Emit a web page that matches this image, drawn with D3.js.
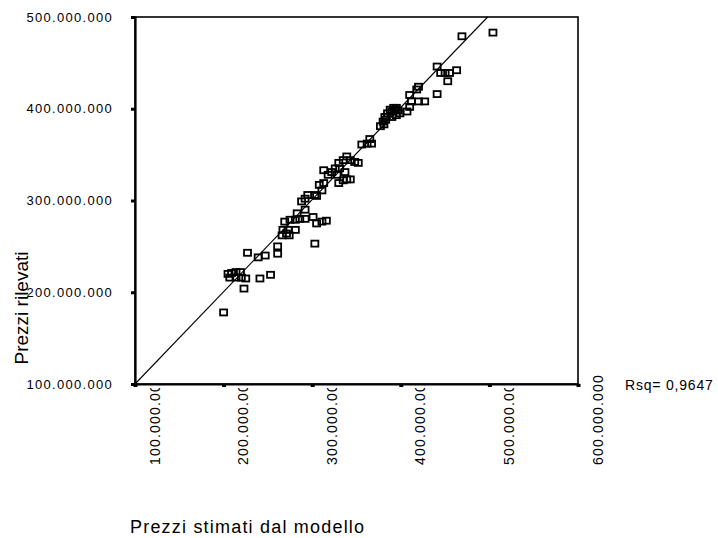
<!DOCTYPE html>
<html>
<head>
<meta charset="utf-8">
<script src="https://cdn.jsdelivr.net/npm/d3@7"></script>
<style>
  body { margin: 0; background: #fff; }
  text { font-family: "Liberation Sans", Arial, sans-serif; fill: #000; }
</style>
</head>
<body>
<div class="chart"></div>
<script>
// scatter of observed vs estimated prices (values in millions)

const estimated = [
  200, 223, 205, 209, 214, 219, 207, 214, 220, 225, 241, 253, 227, 239, 247, 261, 261, 303,
  266, 271, 274, 267, 273, 281, 269, 275, 281, 286, 283, 292, 292, 301, 305, 311, 316,
  288, 292, 295, 303, 305, 308, 311, 313, 313, 318, 322, 326, 328, 330, 335, 339, 343,
  330, 335, 339, 343, 348, 352, 331, 337, 356, 362, 365, 367,
  377, 380, 382, 385, 388, 392, 395, 399, 383, 390, 395, 381, 390, 393, 397,
  407, 410, 410, 412, 420, 427, 420, 418, 441, 441, 445, 450, 455, 463, 453, 469, 504
]
const observed = [
  178, 204, 220, 221, 222, 222, 216, 216, 216, 215, 215, 219, 243, 238, 240, 250, 242, 253,
  262, 264, 262, 268, 268, 268, 277, 279, 279, 280, 286, 290, 280, 282, 275, 277, 278,
  299, 302, 306, 306, 305, 317, 311, 319, 333, 328, 331, 335, 328, 319, 322, 323, 323,
  341, 344, 348, 344, 342, 341, 335, 331, 361, 362, 367, 362,
  381, 386, 391, 395, 399, 401, 401, 395, 388, 391, 393, 383, 397, 399, 398,
  397, 402, 415, 408, 408, 408, 424, 421, 416, 446, 439, 439, 439, 442, 430, 479, 483
]

const xTicks = [100, 200, 300, 400, 500, 600]
const yTicks = [100, 200, 300, 400, 500]
const fitLine = [[100, 100], [498, 500]]
const rsq = 'Rsq= 0,9647'

const width = 718
const height = 538
const plot = { left: 135, right: 578, top: 17, bottom: 384 }

const it = d3.formatLocale({ decimal: ',', thousands: '.', grouping: [3], currency: ['', ''] })
const fmt = d => it.format(',')(d * 1e6)

const svg = d3.select('.chart')
  .append('svg')
    .attr('width', width)
    .attr('height', height)

const x = d3.scaleLinear().domain([100, 600]).range([plot.left, plot.right])
const y = d3.scaleLinear().domain([100, 500]).range([plot.bottom, plot.top])

// x labels - rotated, running up into the plot (the plot hides their ends)
const xLabels = svg.append('g')
  .attr('transform', `translate(0, ${plot.bottom})`)
  .call(d3.axisBottom(x).tickValues(xTicks).tickFormat(fmt).tickSize(0).tickPadding(0))
xLabels.select('.domain').remove()
xLabels.selectAll('.tick line').remove()
xLabels.selectAll('.tick text')
  .attr('transform', 'rotate(-90)')
  .attr('text-anchor', 'start')
  .attr('x', -81)
  .attr('y', 24)
  .attr('dy', 0)
  .style('font-size', '14px')
  .style('letter-spacing', '1.2px')

// white plot area, a little past the bottom axis, over the label ends
svg.append('rect')
  .attr('x', plot.left)
  .attr('y', plot.top)
  .attr('width', plot.right - plot.left)
  .attr('height', plot.bottom - plot.top + 4)
  .attr('fill', '#fff')

svg.append('rect')
  .attr('x', plot.left)
  .attr('y', plot.top)
  .attr('width', plot.right - plot.left)
  .attr('height', plot.bottom - plot.top)
  .attr('fill', 'none')
  .attr('stroke', '#000')
  .attr('stroke-width', 1.6)

// x tick marks
const xAxis = svg.append('g')
  .attr('transform', `translate(0, ${plot.bottom})`)
  .call(d3.axisBottom(x).tickValues(xTicks).tickFormat('').tickSize(3))
xAxis.select('.domain').attr('stroke', '#000').attr('stroke-width', 2)
xAxis.selectAll('.tick line').attr('stroke-width', 4).attr('stroke', '#000')

// y axis
const yAxis = svg.append('g')
  .attr('transform', `translate(${plot.left}, 0)`)
  .call(d3.axisLeft(y).tickValues(yTicks).tickFormat(fmt).tickSize(4).tickPadding(18))
yAxis.select('.domain').attr('stroke', '#000').attr('stroke-width', 2.2)
yAxis.selectAll('.tick line').attr('stroke-width', 3).attr('stroke', '#000')
yAxis.selectAll('.tick text')
  .style('font-size', '13px')
  .style('letter-spacing', '1.3px')

// fit line
svg.append('line')
  .attr('x1', x(fitLine[0][0])).attr('y1', y(fitLine[0][1]))
  .attr('x2', x(fitLine[1][0])).attr('y2', y(fitLine[1][1]))
  .attr('stroke', '#000')
  .attr('stroke-width', 1.1)

// points
const pts = estimated.map((d, i) => ({ e: d, o: observed[i] }))
svg.append('g')
  .selectAll('rect')
  .data(pts)
  .enter()
  .append('rect')
    .attr('x', d => x(d.e) - 3.5)
    .attr('y', d => y(d.o) - 3)
    .attr('width', 7)
    .attr('height', 6)
    .attr('fill', 'none')
    .attr('stroke', '#000')
    .attr('stroke-width', 1.8)

// titles
svg.append('text')
  .attr('transform', 'translate(28, 308) rotate(-90)')
  .attr('text-anchor', 'middle')
  .style('font-size', '19px')
  .text('Prezzi rilevati')

svg.append('text')
  .attr('x', 130)
  .attr('y', 533)
  .style('font-size', '18px')
  .style('letter-spacing', '1.2px')
  .text('Prezzi stimati dal modello')

svg.append('text')
  .attr('x', 625)
  .attr('y', 390)
  .style('font-size', '14px')
  .style('letter-spacing', '0.8px')
  .text(rsq)
</script>
</body>
</html>
